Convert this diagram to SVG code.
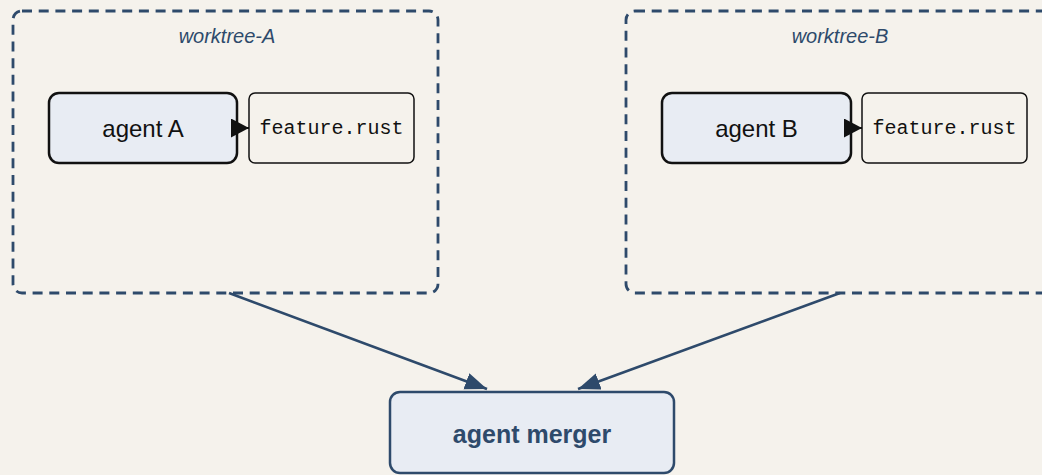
<svg xmlns="http://www.w3.org/2000/svg" width="1042" height="475" viewBox="0 0 1042 475">
  <defs>
    <style>
      .cluster { fill: none; stroke: #2e4a6b; stroke-width: 2.8; stroke-dasharray: 10 6.7; }
      .cluster-label { font-family: "Liberation Sans", Arial, sans-serif; font-size: 20px; font-style: italic; fill: #2e4a6b; text-anchor: middle; }
      .agent rect { fill: #e8ecf3; stroke: #111; stroke-width: 2.5; }
      .agent text { font-family: "Liberation Sans", Arial, sans-serif; font-size: 24px; fill: #111; text-anchor: middle; dominant-baseline: central; }
      .file rect { fill: #f5f2ec; stroke: #111; stroke-width: 1.5; }
      .file text { font-family: "Liberation Mono", "Courier New", monospace; font-size: 20px; fill: #111; text-anchor: middle; dominant-baseline: central; }
      .merger rect { fill: #e8ecf3; stroke: #2e4a6b; stroke-width: 2.5; }
      .merger text { font-family: "Liberation Sans", Arial, sans-serif; font-size: 25px; font-weight: bold; fill: #2e4a6b; text-anchor: middle; dominant-baseline: central; }
      .edge-dark { stroke: #111; stroke-width: 2; fill: none; }
      .edge-blue { stroke: #2e4a6b; stroke-width: 2.6; fill: none; }
    </style>
    <marker id="arrow-dark" markerUnits="userSpaceOnUse" markerWidth="18" markerHeight="20" refX="18" refY="9.5" orient="auto">
      <path d="M0,0 L18,9.5 L0,19 z" fill="#111"/>
    </marker>
    <marker id="arrow-blue" markerUnits="userSpaceOnUse" markerWidth="22" markerHeight="18" refX="22" refY="8.5" orient="auto">
      <path d="M0,0 L22,8.5 L0,17 z" fill="#2e4a6b"/>
    </marker>
  </defs>

  <rect width="1042" height="475" fill="#f5f2ec"/>

  <!-- worktree clusters -->
  <g id="worktree-A">
    <rect class="cluster" x="13" y="11" width="425" height="282" rx="9"/>
    <text class="cluster-label" x="227" y="43">worktree-A</text>
  </g>
  <g id="worktree-B">
    <rect class="cluster" x="626" y="11" width="428" height="282" rx="9"/>
    <text class="cluster-label" x="840" y="43">worktree-B</text>
  </g>

  <!-- nodes -->
  <g id="agent-A" class="agent">
    <rect x="49" y="93" width="188" height="70" rx="10"/>
    <text x="143" y="128">agent A</text>
  </g>
  <g id="file-A" class="file">
    <rect x="249" y="93" width="165" height="70" rx="6"/>
    <text x="331.5" y="128">feature.rust</text>
  </g>
  <g id="agent-B" class="agent">
    <rect x="662" y="93" width="189" height="70" rx="10"/>
    <text x="756.5" y="128">agent B</text>
  </g>
  <g id="file-B" class="file">
    <rect x="862" y="93" width="165" height="70" rx="6"/>
    <text x="944.5" y="128">feature.rust</text>
  </g>
  <g id="agent-merger" class="merger">
    <rect x="390" y="392" width="284" height="81" rx="10"/>
    <text x="532" y="434">agent merger</text>
  </g>

  <!-- connectors -->
  <g id="connectors">
    <line class="edge-dark" x1="231" y1="128" x2="249" y2="128" marker-end="url(#arrow-dark)"/>
    <line class="edge-dark" x1="844" y1="128" x2="862" y2="128" marker-end="url(#arrow-dark)"/>
    <line class="edge-blue" x1="229" y1="293" x2="487" y2="389" marker-end="url(#arrow-blue)"/>
    <line class="edge-blue" x1="840" y1="293" x2="578" y2="389" marker-end="url(#arrow-blue)"/>
  </g>
</svg>
